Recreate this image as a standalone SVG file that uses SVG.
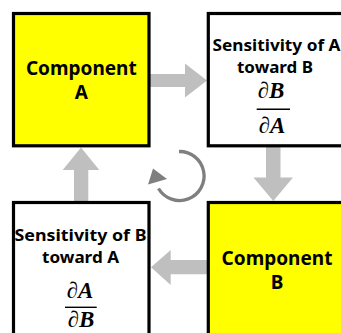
<svg xmlns="http://www.w3.org/2000/svg" width="341" height="333" viewBox="0 0 341 333">
<style>
.box{stroke:#000;stroke-width:3.2}
.yel{fill:#FFFF00}
.wht{fill:#FFFFFF}
.lbl{font-family:"Noto Sans","Liberation Sans",sans-serif;font-weight:bold;fill:#000;text-anchor:middle}
.comp{font-size:19px}
.sens{font-size:16.5px}
.frac{font-family:"Liberation Serif","DejaVu Serif",serif;font-weight:bold;font-style:italic;font-size:23px;fill:#000;text-anchor:middle}
.arr{fill:#BFBFBF}
</style>
<rect width="341" height="333" fill="#FFFFFF"/>
<g id="connectors">
<polygon class="arr" points="150,74 185,74 185,63.5 207,80.5 185,97.5 185,87 150,87"/>
<polygon class="arr" points="266,147 280.5,147 280.5,177.5 293,177.5 273.3,201 253.5,177.5 266,177.5"/>
<polygon class="arr" points="207,260 170.7,260 170.7,250 151,267.2 170.7,285 170.7,274.3 207,274.3"/>
<polygon class="arr" points="74,201 88.3,201 88.3,170 99.3,170 81,147.5 62.7,170 74,170"/>
<g id="cycle">
<path d="M179,151.5 A24.5,24.5 0 1 1 158.5,188.5" fill="none" stroke="#7F7F7F" stroke-width="3.3"/>
<polygon points="153,168.5 148,184.5 167,179" fill="#7F7F7F"/>
</g>
</g>
<g id="componentA">
<rect class="box yel" x="13.5" y="13.5" width="135.5" height="132.3"/>
<text class="lbl comp" x="81.3" y="75">Component</text>
<text class="lbl comp" x="81.3" y="99">A</text>
</g>
<g id="sensAB">
<rect class="box wht" x="208.3" y="13.5" width="135.5" height="132.3"/>
<text class="lbl sens" x="276.5" y="50.7" textLength="128" lengthAdjust="spacingAndGlyphs">Sensitivity of A</text>
<text class="lbl sens" x="275" y="73.3" textLength="76" lengthAdjust="spacingAndGlyphs">toward B</text>
<text class="frac" x="271" y="98.3">∂B</text>
<line x1="256.7" y1="109.3" x2="290" y2="109.3" stroke="#000" stroke-width="1.4"/>
<text class="frac" x="272" y="133.3">∂A</text>
</g>
<g id="componentB">
<rect class="box yel" x="208.3" y="202.5" width="135.5" height="132.3"/>
<text class="lbl comp" x="277" y="265">Component</text>
<text class="lbl comp" x="277" y="288.5">B</text>
</g>
<g id="sensBA">
<rect class="box wht" x="13.5" y="202.5" width="135.5" height="132.3"/>
<text class="lbl sens" x="80.5" y="240.5" textLength="132" lengthAdjust="spacingAndGlyphs">Sensitivity of B</text>
<text class="lbl sens" x="80.5" y="262.5" textLength="77" lengthAdjust="spacingAndGlyphs">toward A</text>
<text class="frac" x="80" y="298.3">∂A</text>
<line x1="65" y1="307.3" x2="96.7" y2="307.3" stroke="#000" stroke-width="1.4"/>
<text class="frac" x="81" y="326.7">∂B</text>
</g>
</svg>
